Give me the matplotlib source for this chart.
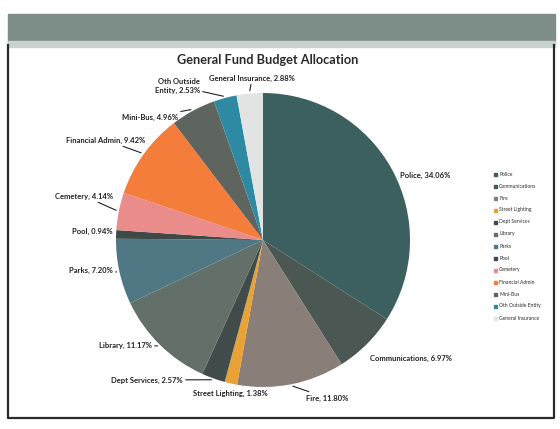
import matplotlib
matplotlib.use('Agg')
from matplotlib import pyplot as plt
from matplotlib.patches import Rectangle
import numpy as np

# slices, clockwise from 12 o'clock
departments = ['Police', 'Communications', 'Fire', 'Street Lighting', 'Dept Services',
               'Library', 'Parks', 'Pool', 'Cemetery', 'Financial Admin', 'Mini-Bus',
               'Oth Outside Entity', 'General Insurance']
shares = [34.06, 6.97, 11.80, 1.38, 2.57, 11.17, 7.20, 0.94, 4.14, 9.42, 4.96, 2.53, 2.88]
slice_colors = ['#3c5f60', '#4b5753', '#8a7e79', '#e9a236', '#414b49', '#627069',
                '#4f7884', '#3d4a48', '#e98c8a', '#f47d3c', '#5e645e', '#2e8aa2', '#e2e3e3']
label_texts = ['Police, 34.06%', 'Communications, 6.97%', 'Fire, 11.80%',
               'Street Lighting, 1.38%', 'Dept Services, 2.57%', 'Library, 11.17%',
               'Parks, 7.20%', 'Pool, 0.94%', 'Cemetery, 4.14%', 'Financial Admin, 9.42%',
               'Mini-Bus, 4.96%', 'Oth Outside\nEntity, 2.53%', 'General Insurance, 2.88%']

# label anchor spots (page pixels, y down) and alignment
label_spots = [(400, 175, 'left'), (370, 358, 'left'), (306, 398, 'left'),
               (268, 393, 'right'), (183, 380, 'right'), (152, 345, 'right'),
               (113, 270, 'right'), (113, 231, 'right'), (113, 196, 'right'),
               (145, 140, 'right'), (178, 117, 'right'), (200, 86, 'right'),
               (295, 78, 'right')]
draw_leader = [False, False, True, False, True, True, True, False, True, True, True, True, True]

W, H = 560, 429
cx, cy, r = 263, H - 240, 147

fig = plt.figure(figsize=(5.6, 4.29), dpi=100)
ax = fig.add_axes([0, 0, 1, 1])
ax.set_xlim(0, W)
ax.set_ylim(0, H)
ax.axis('off')

# scanned page look: dark band at top and page border
ax.add_patch(Rectangle((8, H - 42), 547, 28, color='#7d8d88', zorder=0))
ax.add_patch(Rectangle((8, H - 47), 547, 6, color='#c9d2cc', zorder=0))
ax.plot([8, 8, 554, 554], [H - 45, H - 418, H - 418, H - 45], color='#2a2a2a', lw=1.6)

wedges, _ = ax.pie(shares, colors=slice_colors, startangle=90, counterclock=False,
                   center=(cx, cy), radius=r, wedgeprops=dict(linewidth=0))
ax.set_xlim(0, W)
ax.set_ylim(0, H)
ax.set_aspect('equal')

ax.text(268, H - 60, 'General Fund Budget Allocation', ha='center', va='center',
        fontsize=9.2, fontweight='bold', family='Lato', color='#2b2b2b')

for w, txt, (tx, ty, ha), lead in zip(wedges, label_texts, label_spots, draw_leader):
    ang = np.deg2rad((w.theta1 + w.theta2) / 2)
    ex, ey = cx + r * 1.01 * np.cos(ang), cy + r * 1.01 * np.sin(ang)
    if lead:
        ax.annotate(txt, xy=(ex, ey), xytext=(tx, H - ty), ha=ha, va='center',
                    fontsize=5.5, fontweight='bold', family='Lato', color='#222222',
                    arrowprops=dict(arrowstyle='-', color='#222222', lw=0.8,
                                    shrinkA=0, shrinkB=1))
    else:
        ax.text(tx, H - ty, txt, ha=ha, va='center', fontsize=5.5,
                fontweight='bold', family='Lato', color='#222222')

# tiny legend at right
for i, (name, col) in enumerate(zip(departments, slice_colors)):
    ly = H - (174 + i * 12)
    ax.add_patch(Rectangle((494, ly - 1.5), 3, 3, color=col))
    ax.text(499, ly, name, ha='left', va='center', fontsize=3.6,
            family='Lato', color='#2a2a2a')

fig.savefig('out.png', dpi=100)
